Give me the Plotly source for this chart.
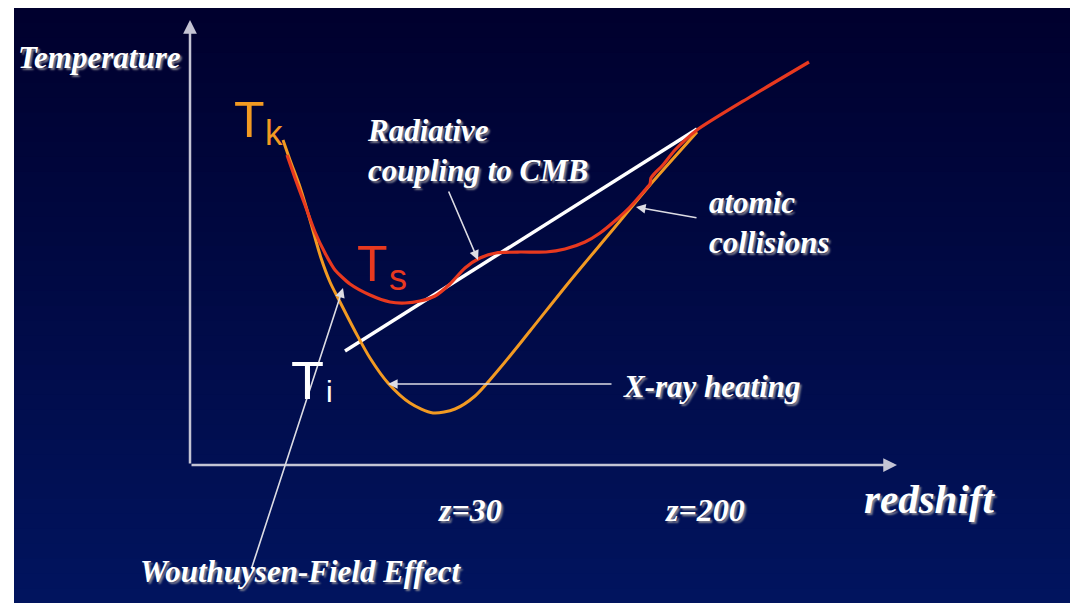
import plotly.graph_objects as go

# ---- schematic data (x: redshift-like units, y: temperature-like units) ----
tk_x = [283, 290, 300, 310, 321, 330, 339, 356, 370, 388, 410, 433, 455, 475,
        500, 530, 570, 610, 650, 680, 697]
tk_y = [463, 443, 416, 383, 345, 321, 303, 270, 245, 220, 200, 190, 194, 207,
        235, 272, 322, 370, 418, 452, 471]

ts_x = [287, 295, 305, 315, 325, 335, 350, 370, 390, 405, 420, 435, 450, 465, 480,
        496, 520, 546, 565, 585, 600, 616, 630, 645, 650, 651, 655, 662, 675, 697, 750, 809]
ts_y = [448, 425, 398, 371, 350, 333, 319, 308, 301, 300, 302, 307, 319, 335, 345,
        350, 351, 351, 354, 361, 370, 383, 396, 413, 419, 425, 430, 437, 453, 473, 506, 541]

cmb_x = [345, 697]
cmb_y = [252, 474]

# axes of the schematic
axis_origin = (190, 138)
x_axis_end = 897
y_axis_end = 583

# text labels
tick_labels = ["z=30", "z=200"]
tick_x = [470, 705]
tick_y = 93

W, H = 1070, 603
fig = go.Figure()

# background gradient (dark navy to blue)
top = (0, 0, 46)
bot = (1, 20, 94)
n = 40
x0p = 14 / W
y1p = 1 - 8 / H
for i in range(n):
    f = i / (n - 1)
    c = tuple(round(top[k] + (bot[k] - top[k]) * f) for k in range(3))
    ya = y1p - y1p * i / n
    yb = y1p - y1p * (i + 1) / n
    fig.add_shape(type="rect", xref="paper", yref="paper", x0=x0p, x1=1.02,
                  y0=yb - 0.003, y1=ya, line_width=0,
                  fillcolor="rgb(%d,%d,%d)" % c, layer="below")
# white slide border (left and top)
fig.add_shape(type="rect", xref="paper", yref="paper", x0=-0.01, x1=x0p, y0=-0.01, y1=1.01,
              line_width=0, fillcolor="white", layer="below")
fig.add_shape(type="rect", xref="paper", yref="paper", x0=-0.01, x1=1.02, y0=y1p, y1=1.01,
              line_width=0, fillcolor="white", layer="below")

# CMB line
fig.add_trace(go.Scatter(x=cmb_x, y=cmb_y, mode="lines",
                         line=dict(color="white", width=3.5), hoverinfo="skip"))
# Tk curve
fig.add_trace(go.Scatter(x=tk_x, y=tk_y, mode="lines",
                         line=dict(color="#F29A22", width=3, shape="spline", smoothing=0.8),
                         hoverinfo="skip"))
# Ts curve
fig.add_trace(go.Scatter(x=ts_x, y=ts_y, mode="lines",
                         line=dict(color="#E8391F", width=3.2, shape="spline", smoothing=0.6),
                         hoverinfo="skip"))

ann = []
axis_col = "#c4c4d4"
# axes arrows
ann.append(dict(x=axis_origin[0], y=y_axis_end, ax=axis_origin[0], ay=axis_origin[1],
                xref="x", yref="y", axref="x", ayref="y", text="", showarrow=True,
                arrowhead=2, arrowsize=1.1, arrowwidth=2.5, arrowcolor=axis_col))
ann.append(dict(x=x_axis_end, y=axis_origin[1], ax=axis_origin[0], ay=axis_origin[1],
                xref="x", yref="y", axref="x", ayref="y", text="", showarrow=True,
                arrowhead=2, arrowsize=1.1, arrowwidth=2.5, arrowcolor=axis_col))

# pointer arrows (tip, tail)
pointers = [((343, 315), (251, 33)),
            ((478, 343), (448, 413)),
            ((636, 396), (698, 385)),
            ((388, 219), (613, 219))]
for (tx, ty), (sx, sy) in pointers:
    ann.append(dict(x=tx, y=ty, ax=sx, ay=sy, xref="x", yref="y", axref="x", ayref="y",
                    text="", showarrow=True, arrowhead=2, arrowsize=1.2, arrowwidth=1.6,
                    arrowcolor="#dcdce4"))

serif = dict(family="Liberation Serif", color="white", weight="bold", style="italic",
             shadow="2px 2px 2px rgba(140,140,150,0.9)")

def txt(x, y, s, size, xanchor="left", align="left"):
    ann.append(dict(x=x, y=y, xref="x", yref="y", text=s, showarrow=False,
                    xanchor=xanchor, yanchor="middle", align=align,
                    font=dict(serif, size=size)))

txt(16, 546, "Temperature", 31)
txt(862, 104, "redshift", 41)
for lab, lx in zip(tick_labels, tick_x):
    txt(lx, tick_y, lab, 32, xanchor="center")
txt(138, 32, "Wouthuysen-Field Effect", 31)
txt(365, 453, "Radiative<br>coupling to CMB", 31)
txt(707, 381, "atomic<br>collisions", 31)
txt(621, 217, "X-ray heating", 31)

sans = "Liberation Sans"
def sym(x, y, s, size, color):
    ann.append(dict(x=x, y=y, xref="x", yref="y", text=s, showarrow=False,
                    xanchor="left", yanchor="middle",
                    font=dict(family=sans, size=size, color=color)))

sym(232, 483, "T", 50, "#F29A22")
sym(263, 471, "k", 35, "#F29A22")
sym(355, 339, "T", 50, "#E8391F")
sym(387, 326, "s", 36, "#E8391F")
sym(289, 223, "T", 54, "white")
sym(324, 212, "i", 30, "white")

fig.update_layout(
    width=W, height=H, autosize=False,
    margin=dict(l=0, r=0, t=0, b=0),
    paper_bgcolor="rgb(1,20,94)", plot_bgcolor="rgba(0,0,0,0)",
    showlegend=False,
    xaxis=dict(range=[0, W], visible=False, fixedrange=True),
    yaxis=dict(range=[0, H], visible=False, fixedrange=True),
    annotations=ann,
)
fig.write_html(
    "out.html",
    config={"displayModeBar": False},
    post_script=("document.body.style.margin='0';"
                 "document.body.style.overflow='hidden';"
                 "document.documentElement.style.overflow='hidden';"
                 "document.body.style.background='rgb(1,20,94)';"),
)
